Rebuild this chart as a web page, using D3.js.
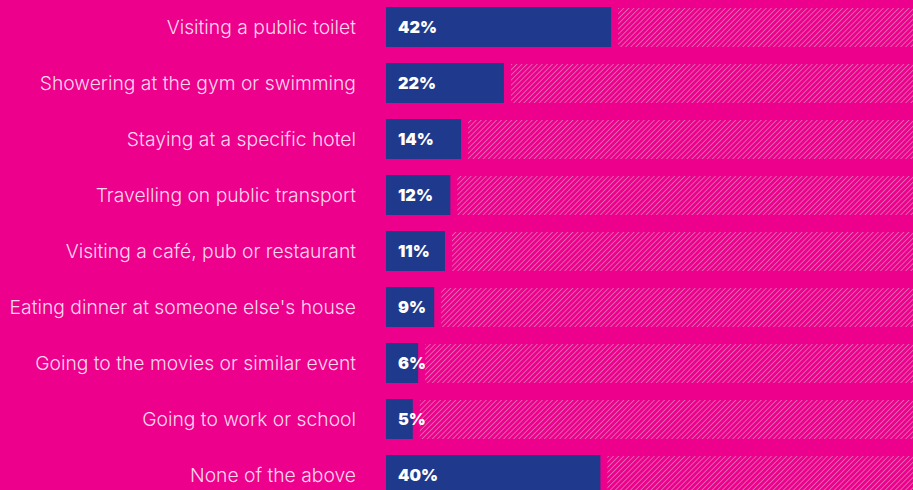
<!DOCTYPE html>
<html><head><meta charset="utf-8">
<script src="https://cdn.jsdelivr.net/npm/d3@7"></script>
<style>
html,body{margin:0;padding:0;background:#EC008C;overflow:hidden}
svg{display:block}
</style></head>
<body>
<svg id="c" width="913" height="490"></svg>
<script>
const categories = ["Visiting a public toilet","Showering at the gym or swimming","Staying at a specific hotel","Travelling on public transport","Visiting a café, pub or restaurant","Eating dinner at someone else's house","Going to the movies or similar event","Going to work or school","None of the above"];
const values = [42,22,14,12,11,9,6,5,40];

const svg = d3.select("#c");
const W = 913, H = 490;
svg.append("rect").attr("width",W).attr("height",H).attr("fill","#EC008C");

const defs = svg.append("defs");
const pat = defs.append("pattern").attr("id","hatch").attr("patternUnits","userSpaceOnUse")
  .attr("width",3.6).attr("height",3.6).attr("patternTransform","rotate(45)");
pat.append("line").attr("x1",0).attr("y1",0).attr("x2",0).attr("y2",3.6)
  .attr("stroke","#D9A6C4").attr("stroke-width",1.3).attr("stroke-opacity",0.9);

const x = d3.scaleLinear().domain([0,100]).range([386, 922]);
const y = d3.scaleBand().domain(categories).range([-1, 503]).paddingInner(0.286).paddingOuter(0.143);

const g = svg.append("g");
const rows = g.selectAll("g.row").data(categories.map((c,i)=>({c,v:values[i]}))).join("g");

rows.append("rect").attr("x",d=>x(d.v)+7).attr("y",d=>y(d.c)+1)
  .attr("width",d=>x(100)-x(d.v)-7).attr("height",y.bandwidth()-1).attr("fill","url(#hatch)");
rows.append("rect").attr("x",x(0)).attr("y",d=>y(d.c))
  .attr("width",d=>x(d.v)-x(0)).attr("height",y.bandwidth()).attr("fill","#1F3A8C");
rows.append("text").attr("x",x(0)+12).attr("y",d=>y(d.c)+y.bandwidth()/2).attr("dy","0.36em")
  .attr("fill","#fff").attr("font-family","Inter, 'Open Sans', sans-serif").attr("font-weight",900)
  .attr("font-size",16.3).text(d=>d.v+"%");
rows.append("text").attr("x",356).attr("y",d=>y(d.c)+y.bandwidth()/2).attr("dy","0.34em")
  .attr("text-anchor","end").attr("fill","#FFD6EE").attr("font-family","Inter, Roboto, sans-serif")
  .attr("font-weight",300).attr("font-size",19.3).text(d=>d.c);
</script>
</body></html>
